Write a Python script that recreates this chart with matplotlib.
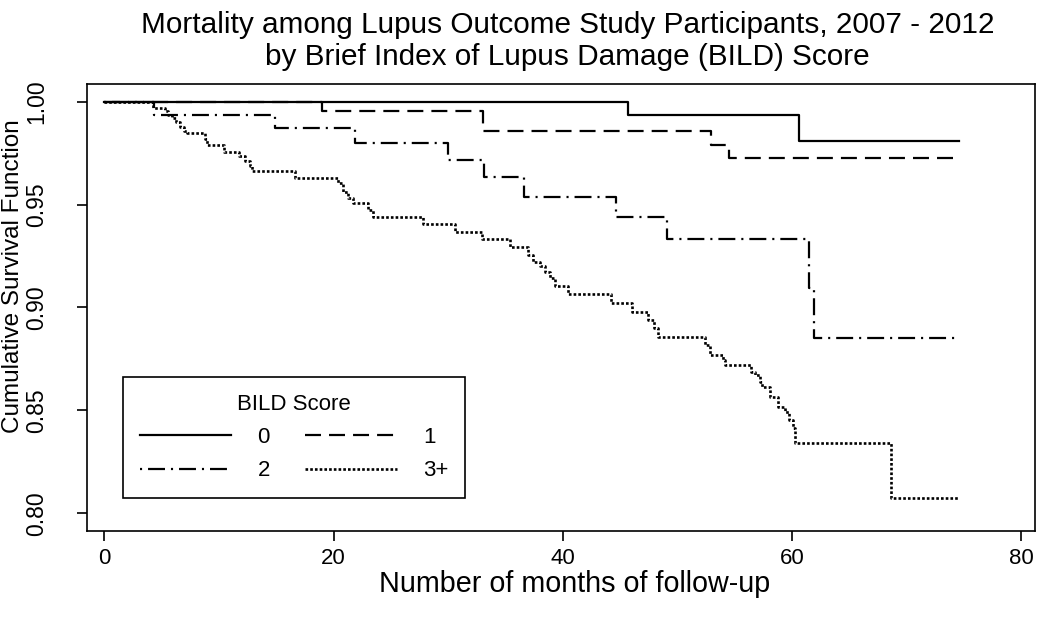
import numpy as np
import matplotlib
matplotlib.use('Agg')
import matplotlib.pyplot as plt

# Kaplan-Meier curves (months, survival)
t0 = [0, 45.7, 60.6, 74.6]
s0 = [1.0, 0.9935, 0.9809, 0.9809]

t1 = [0, 19.0, 33.0, 52.9, 54.5, 74.5]
s1 = [1.0, 0.9955, 0.9859, 0.9790, 0.9725, 0.9725]

t2 = [0, 4.3, 14.9, 21.9, 30.0, 33.1, 36.6, 44.6, 49.1, 61.5, 61.9, 74.2]
s2 = [1.0, 0.9935, 0.9870, 0.9798, 0.9717, 0.9636, 0.9538, 0.9441, 0.9333,
      0.9095, 0.8850, 0.8850]

t3 = [0, 4.24, 5.29, 5.55, 5.90, 6.25, 6.60, 6.95, 7.21, 8.78, 8.95, 10.45,
      11.75, 12.28, 12.70, 12.88, 16.63, 20.37, 20.82, 21.26, 21.69, 23.00,
      23.44, 27.80, 30.59, 32.95, 35.39, 36.96, 37.40, 38.01, 38.44, 38.88,
      39.32, 40.46, 44.21, 46.04, 47.44, 47.96, 48.31, 52.41, 52.85, 53.98,
      54.16, 56.42, 56.77, 57.21, 57.38, 58.08, 58.78, 59.39, 59.74, 60.09,
      60.26, 68.64, 74.5]
s3 = [1.0, 0.9968, 0.9955, 0.9935, 0.9921, 0.9901, 0.9877, 0.9858, 0.9846,
      0.9819, 0.9790, 0.9757, 0.9736, 0.9712, 0.9688, 0.9663, 0.9628, 0.9605,
      0.9561, 0.9532, 0.9506, 0.9474, 0.9441, 0.9406, 0.9368, 0.9331, 0.9292,
      0.9255, 0.9223, 0.9202, 0.9174, 0.9143, 0.9104, 0.9064, 0.9023, 0.8980,
      0.8939, 0.8900, 0.8858, 0.8818, 0.8769, 0.8745, 0.8721, 0.8688, 0.8672,
      0.8638, 0.8614, 0.8565, 0.8517, 0.8492, 0.8453, 0.8414, 0.8343, 0.8073,
      0.8073]

groups = ['0', '1', '2', '3+']
xticks = [0, 20, 40, 60, 80]
yticks = [0.80, 0.85, 0.90, 0.95, 1.00]

plt.rcParams['font.family'] = ['Liberation Sans', 'DejaVu Sans']
plt.rcParams['lines.scale_dashes'] = False

fig = plt.figure(figsize=(10.5, 6.25), dpi=100)
ax = fig.add_axes([0.0829, 0.1509, 0.9028, 0.7147])

lw = 1.6
ax.step(t0, s0, where='post', color='black', lw=lw, label=groups[0])
ax.step(t1, s1, where='post', color='black', lw=lw, label=groups[1],
        dashes=(11.5, 5.8))
ax.step(t2, s2, where='post', color='black', lw=lw, label=groups[2],
        dashes=(1.5, 4.3, 12.2, 4.3))
ax.step(t3, s3, where='post', color='black', lw=1.9, label=groups[3],
        dashes=(1.9, 1.5))

ax.set_xlim(-1.52, 81.2)
ax.set_ylim(0.7915, 1.0086)
ax.set_xticks(xticks)
ax.set_xticklabels([str(v) for v in xticks])
ax.set_yticks(yticks)
ax.set_yticklabels(['%.2f' % v for v in yticks])

for sp in ax.spines.values():
    sp.set_linewidth(1.2)
ax.tick_params(axis='both', direction='out', length=7.2, width=1.2)
ax.tick_params(axis='x', labelsize=16, pad=5)
ax.tick_params(axis='y', labelsize=16.5, pad=21, labelrotation=90)
for lab in ax.get_yticklabels():
    lab.set_va('center')

ax.set_xlabel('Number of months of follow-up', fontsize=20.7)
ax.xaxis.set_label_coords(0.514, -0.088, transform=ax.transAxes)
ax.xaxis.label.set_va('top')
ax.set_ylabel('Cumulative Survival Function', fontsize=17.5)
ax.yaxis.set_label_coords(-0.0665, 0.57)
ax.set_title('Mortality among Lupus Outcome Study Participants, 2007 - 2012\n'
             'by Brief Index of Lupus Damage (BILD) Score',
             fontsize=21.4, pad=14, linespacing=1.18, x=0.507)

# legend rows: "0  1" / "2  3+"
h, l = ax.get_legend_handles_labels()
order = [0, 2, 1, 3]
leg = ax.legend([h[i] for i in order], [l[i] for i in order], ncol=2,
                title='BILD Score', fontsize=16, title_fontsize=16,
                loc='lower left', bbox_to_anchor=(0.038, 0.073),
                borderaxespad=0, frameon=True, fancybox=False,
                edgecolor='black', framealpha=1, handlelength=4.1,
                handletextpad=1.2, columnspacing=1.6, borderpad=0.75,
                labelspacing=0.55)
leg.get_frame().set_linewidth(1.2)
leg._legend_box.sep = 9

fig.savefig('out.png', dpi=100)
